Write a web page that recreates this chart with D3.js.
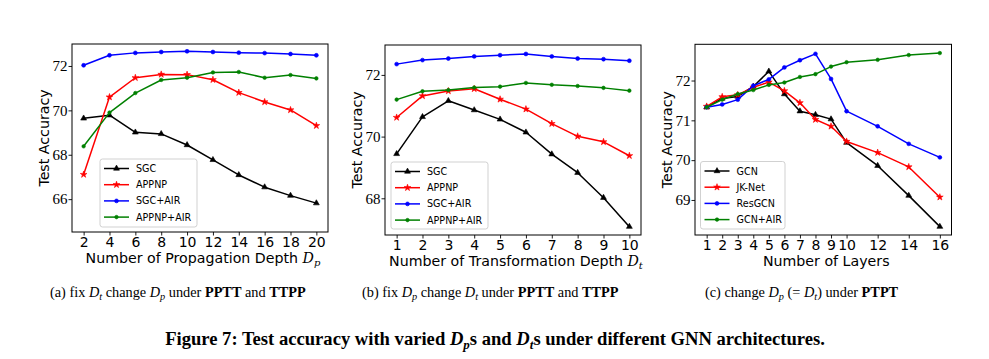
<!DOCTYPE html>
<html><head><meta charset="utf-8">
<script src="https://cdn.jsdelivr.net/npm/d3@7"></script>
<style>body{margin:0;background:#fff}svg{display:block}</style>
</head><body>
<svg id="c" width="989" height="359"></svg>
<script>
// ---- data ----
const depthP = [2,4,6,8,10,12,14,16,18,20];
const aSGC      = [69.64,69.78,69.01,68.94,68.44,67.77,67.09,66.54,66.16,65.82];
const aAPPNP    = [67.11,70.60,71.47,71.62,71.61,71.38,70.80,70.38,70.02,69.31];
const aSGCAIR   = [72.03,72.48,72.59,72.63,72.66,72.63,72.60,72.58,72.54,72.48];
const aAPPNPAIR = [68.38,69.90,70.78,71.37,71.47,71.71,71.73,71.47,71.59,71.44];

const depthT = [1,2,3,4,5,6,7,8,9,10];
const bSGC      = [69.44,70.64,71.16,70.86,70.56,70.14,69.43,68.83,68.02,67.08];
const bAPPNP    = [70.62,71.32,71.48,71.55,71.21,70.89,70.42,70.01,69.83,69.38];
const bSGCAIR   = [72.35,72.48,72.53,72.60,72.64,72.68,72.60,72.53,72.51,72.46];
const bAPPNPAIR = [71.20,71.47,71.51,71.59,71.62,71.74,71.68,71.64,71.58,71.49];

const layers = [1,2,3,4,5,6,7,8,9,10,12,14,16];
const cGCN    = [71.33,71.55,71.60,71.85,72.23,71.66,71.23,71.14,71.03,70.44,69.86,69.11,68.33];
const cJK     = [71.35,71.59,71.64,71.83,71.96,71.74,71.44,71.02,70.85,70.47,70.19,69.83,69.07];
const cRes    = [71.33,71.40,71.52,71.87,72.03,72.33,72.51,72.67,72.04,71.23,70.85,70.41,70.07];
const cGCNAIR = [71.33,71.52,71.66,71.76,71.89,71.95,72.09,72.16,72.35,72.46,72.52,72.64,72.69];

const xTicksA = [2,4,6,8,10,12,14,16,18,20];
const yTicksA = [66,68,70,72];
const xTicksB = [1,2,3,4,5,6,7,8,9,10];
const yTicksB = [68,70,72];
const xTicksC = [1,2,3,4,5,6,7,8,9,10,12,14,16];
const yTicksC = [69,70,71,72];

const namesAB = ["SGC","APPNP","SGC+AIR","APPNP+AIR"];
const namesC  = ["GCN","JK-Net","ResGCN","GCN+AIR"];

// ---- drawing ----
const svg = d3.select("#c");
svg.append("rect").attr("width",989).attr("height",359).attr("fill","#fff");

const colors = ["#000000","#ff0000","#0000ff","#008000"];
const symbols = [d3.symbolTriangle, d3.symbolStar, d3.symbolCircle, d3.symbolCircle];
const symSizes = [15, 14, 12, 10];

function panel(cfg){
  const g = svg.append("g");
  const x = d3.scaleLinear().domain(cfg.xd).range([cfg.x0,cfg.x1]);
  const y = d3.scaleLinear().domain(cfg.yd).range([cfg.y1,cfg.y0]);
  const xa = g.append("g").attr("transform",`translate(0,${cfg.y1})`)
    .call(d3.axisBottom(x).tickValues(cfg.xt).tickSize(3.5).tickPadding(2).tickFormat(d3.format("d")));
  xa.select(".domain").remove();
  xa.selectAll("text").attr("font-family","DejaVu Sans").attr("font-size",14).attr("fill","#000");
  xa.selectAll("line").attr("stroke","#000").attr("stroke-width",0.9);
  const ya = g.append("g").attr("transform",`translate(${cfg.x0},0)`)
    .call(d3.axisLeft(y).tickValues(cfg.yt).tickSize(3.5).tickPadding(1).tickFormat(d3.format("d")));
  ya.select(".domain").remove();
  ya.selectAll("text").attr("font-family","Liberation Serif").attr("font-size",15).attr("fill","#000");
  ya.selectAll("line").attr("stroke","#000").attr("stroke-width",0.9);

  const clipId = "clip"+cfg.id;
  svg.append("clipPath").attr("id",clipId).append("rect")
    .attr("x",cfg.x0).attr("y",cfg.y0).attr("width",cfg.x1-cfg.x0).attr("height",cfg.y1-cfg.y0);

  const plot = g.append("g").attr("clip-path",`url(#${clipId})`);
  const line = d3.line().x(d=>x(d[0])).y(d=>y(d[1]));
  cfg.series.forEach((s,i)=>{
    const pts = cfg.xs.map((xv,j)=>[xv,s[j]]);
    plot.append("path").attr("d",line(pts)).attr("fill","none")
      .attr("stroke",colors[i]).attr("stroke-width",1.5).attr("stroke-linejoin","round");
    plot.selectAll(null).data(pts).enter().append("path")
      .attr("d",d3.symbol().type(symbols[i]).size(symSizes[i]))
      .attr("transform",d=>`translate(${x(d[0])},${y(d[1])})`)
      .attr("fill",colors[i]).attr("stroke",colors[i]).attr("stroke-width",0.6);
  });

  g.append("rect").attr("x",cfg.x0).attr("y",cfg.y0)
    .attr("width",cfg.x1-cfg.x0).attr("height",cfg.y1-cfg.y0)
    .attr("fill","none").attr("stroke","#000").attr("stroke-width",1);

  const L = cfg.leg;
  const lg = g.append("g");
  lg.append("rect").attr("x",L.x).attr("y",L.y).attr("width",L.w).attr("height",L.h)
    .attr("rx",2.5).attr("fill","#fff").attr("fill-opacity",0.8)
    .attr("stroke","#cccccc").attr("stroke-width",0.9);
  cfg.names.forEach((n,i)=>{
    const yy = L.y + 9.5 + i*16.2;
    lg.append("line").attr("x1",L.x+4).attr("x2",L.x+29).attr("y1",yy).attr("y2",yy)
      .attr("stroke",colors[i]).attr("stroke-width",1.5);
    lg.append("path").attr("d",d3.symbol().type(symbols[i]).size(symSizes[i]))
      .attr("transform",`translate(${L.x+16.5},${yy})`).attr("fill",colors[i])
      .attr("stroke",colors[i]).attr("stroke-width",0.6);
    lg.append("text").attr("x",L.x+36).attr("y",yy+3.5).text(n)
      .attr("font-family","DejaVu Sans").attr("font-size",9.6).attr("fill","#000");
  });

  const xl = g.append("text").attr("x",(cfg.x0+cfg.x1)/2 + 3).attr("y",cfg.y1+31)
    .attr("text-anchor","middle").attr("font-family","DejaVu Sans").attr("font-size",14.2).attr("fill","#000");
  xl.append("tspan").text(cfg.xlabel);
  if(cfg.sub){
    xl.append("tspan").text(" ");
    xl.append("tspan").attr("font-family","DejaVu Serif").attr("font-style","italic").text("D");
    xl.append("tspan").attr("font-family","DejaVu Serif").attr("font-style","italic")
      .attr("font-size",10).attr("dy",3).text(cfg.sub);
  }
  g.append("text").attr("transform",`translate(${cfg.x0-23},${(cfg.y0+cfg.y1)/2}) rotate(-90)`)
    .attr("text-anchor","middle").attr("font-family","DejaVu Sans").attr("font-size",14.2)
    .attr("fill","#000").text("Test Accuracy");
}

panel({id:"a", x0:72, x1:328, y0:44, y1:232, xd:[1.1,20.9], yd:[64.52,72.99],
  xt:xTicksA, yt:yTicksA, xs:depthP, series:[aSGC,aAPPNP,aSGCAIR,aAPPNPAIR], names:namesAB,
  leg:{x:100,y:159,w:97,h:68}, xlabel:"Number of Propagation Depth", sub:"p"});
panel({id:"b", x0:385, x1:641, y0:45, y1:235, xd:[0.55,10.45], yd:[66.81,72.97],
  xt:xTicksB, yt:yTicksB, xs:depthT, series:[bSGC,bAPPNP,bSGCAIR,bAPPNPAIR], names:namesAB,
  leg:{x:391,y:162,w:97,h:67}, xlabel:"Number of Transformation Depth", sub:"t"});
panel({id:"c", x0:695, x1:951.5, y0:44.3, y1:235, xd:[0.25,16.75], yd:[68.12,72.91],
  xt:xTicksC, yt:yTicksC, xs:layers, series:[cGCN,cJK,cRes,cGCNAIR], names:namesC,
  leg:{x:700.5,y:161.5,w:84.5,h:67.5}, xlabel:"Number of Layers", sub:null});

function caption(x, parts, y, size){
  const t = svg.append("text").attr("x",x).attr("y",y).attr("font-family","Liberation Serif")
    .attr("font-size",size).attr("fill","#000");
  parts.forEach(p=>{
    const s = t.append("tspan").text(p.t);
    if(p.b) s.attr("font-weight","bold");
    if(p.i) s.attr("font-style","italic");
    if(p.sub) s.attr("font-size",size*0.72).attr("dy",2.8);
    if(p.up) s.attr("dy",-2.8);
  });
  return t;
}
const csz = 14.3;
caption(50, [{t:"(a)  fix "},{t:"D",i:1},{t:"t",i:1,sub:1},{t:" change ",up:1},{t:"D",i:1},{t:"p",i:1,sub:1},
  {t:" under ",up:1},{t:"PPTT",b:1},{t:" and "},{t:"TTPP",b:1}], 297, csz);
caption(362, [{t:"(b)  fix "},{t:"D",i:1},{t:"p",i:1,sub:1},{t:" change ",up:1},{t:"D",i:1},{t:"t",i:1,sub:1},
  {t:" under ",up:1},{t:"PPTT",b:1},{t:" and "},{t:"TTPP",b:1}], 297, csz);
caption(705, [{t:"(c)  change "},{t:"D",i:1},{t:"p",i:1,sub:1},{t:" (= ",up:1},{t:"D",i:1},{t:"t",i:1,sub:1},
  {t:") under ",up:1},{t:"PTPT",b:1}], 297, csz);

const fc = svg.append("text").attr("x",495).attr("y",345).attr("text-anchor","middle")
  .attr("font-family","Liberation Serif").attr("font-weight","bold").attr("font-size",18.6).attr("fill","#000");
fc.append("tspan").text("Figure 7: Test accuracy with varied ");
fc.append("tspan").attr("font-style","italic").text("D");
fc.append("tspan").attr("font-style","italic").attr("font-size",13).attr("dy",3.5).text("p");
fc.append("tspan").attr("dy",-3.5).text("s and ");
fc.append("tspan").attr("font-style","italic").text("D");
fc.append("tspan").attr("font-style","italic").attr("font-size",13).attr("dy",3.5).text("t");
fc.append("tspan").attr("dy",-3.5).text("s under different GNN architectures.");
</script>
</body></html>
